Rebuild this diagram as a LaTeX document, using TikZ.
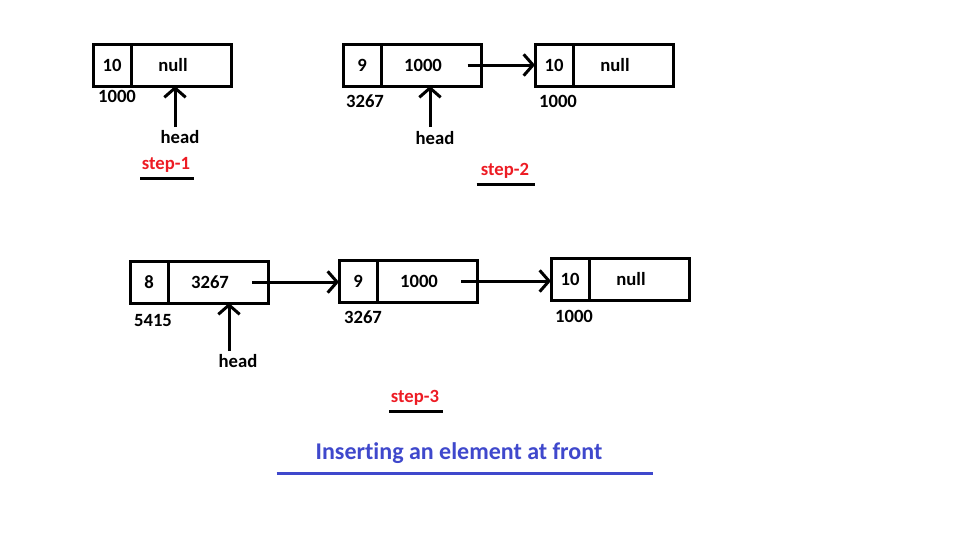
\documentclass[tikz,border=0pt]{standalone}
\usepackage{fontspec}
\setmainfont{Carlito}[Ligatures=NoCommon]
\usetikzlibrary{arrows.meta}
\definecolor{stepred}{RGB}{237,28,36}
\definecolor{titleblue}{RGB}{63,72,204}

\begin{document}
\begin{tikzpicture}[x=0.75pt,y=-0.75pt,
		cell/.style={draw, line width=2.25pt, minimum height=31.5pt, inner sep=0pt, outer sep=0pt, font=\bfseries\fontsize{14}{16}\selectfont},
		datacell/.style={cell, minimum width=28.5pt},
		ptrcell/.style={cell, minimum width=75pt, anchor=west},
		val/.style={font=\bfseries\fontsize{14}{16}\selectfont, inner sep=1pt},
		steplbl/.style={font=\bfseries\fontsize{14}{16}\selectfont, text=stepred, inner sep=1pt},
		link/.style={line width=2.25pt, -{Straight Barb[length=7pt, width=16pt, line width=2.25pt]}},
		rule/.style={line width=2.25pt}]
		\useasboundingbox (0,0) rectangle (969,553);

		% step 1
		\node[datacell] (d1) at (112,65) {10};
		\node[ptrcell] (p1) at (d1.east) {};
		\node[val] (v1) at ([xshift=-6pt]p1.center) {null};
		\node[val] (a1) at (117,96) {1000};
		\node[val] (h1) at (180,137) {head};
		\coordinate (t1) at (175,127);
		\draw[link] (t1) -- (t1 |- p1.south);
		\node[steplbl] (s1) at (166,165) {step-1};
		\draw[rule] ([yshift=-3pt]s1.south west) -- ([xshift=2pt,yshift=-3pt]s1.south east);

		% step 2
		\node[datacell] (d9b) at (362,65) {9};
		\node[ptrcell] (p9b) at (d9b.east) {};
		\node[val] (v9b) at ([xshift=-6pt]p9b.center) {1000};
		\node[datacell] (d10b) at (554,65) {10};
		\node[ptrcell] (p10b) at (d10b.east) {};
		\node[val] (v10b) at ([xshift=-6pt]p10b.center) {null};
		\node[val] (a2) at (365,101) {3267};
		\node[val] (a3) at (558,101) {1000};
		\draw[link] ([xshift=-10pt]p9b.east) -- (d10b.west);
		\node[val] (h2) at (435,138) {head};
		\coordinate (t2) at (430,127);
		\draw[link] (t2) -- (t2 |- p9b.south);
		\node[steplbl] (s2) at (505,171) {step-2};
		\draw[rule] ([xshift=-2pt,yshift=-3pt]s2.south west) -- ([xshift=3pt,yshift=-3pt]s2.south east);

		% step 3
		\node[datacell] (d8c) at (149,282) {8};
		\node[ptrcell] (p8c) at (d8c.east) {};
		\node[val] (v8c) at ([xshift=-6pt]p8c.center) {3267};
		\node[datacell] (d9c) at (358,281) {9};
		\node[ptrcell] (p9c) at (d9c.east) {};
		\node[val] (v9c) at ([xshift=-6pt]p9c.center) {1000};
		\node[datacell] (d10c) at (570,279) {10};
		\node[ptrcell] (p10c) at (d10c.east) {};
		\node[val] (v10c) at ([xshift=-6pt]p10c.center) {null};
		\node[val] (a4) at (153,320) {5415};
		\node[val] (a5) at (363,317) {3267};
		\node[val] (a6) at (574,316) {1000};
		\coordinate (t5) at ([xshift=-12pt]p8c.east);
		\draw[link] (t5) -- (t5 -| d9c.west);
		\coordinate (t4) at ([xshift=-12pt]p9c.east);
		\draw[link] (t4) -- (t4 -| d10c.west);
		\node[val] (h3) at (238,361) {head};
		\coordinate (t3) at (229,351);
		\draw[link] (t3) -- (t3 |- p8c.south);
		\node[steplbl] (s3) at (415,398) {step-3};
		\draw[rule] ([yshift=-3pt]s3.south west) -- ([xshift=2pt,yshift=-3pt]s3.south east);

		% caption
		\node[font=\bfseries\fontsize{18}{21}\selectfont, text=titleblue, inner sep=1pt] (ttl) at (459,453) {Inserting an element at front};
		\draw[rule, titleblue] ([xshift=-28pt,yshift=-6pt]ttl.south west) -- ([xshift=37pt,yshift=-6pt]ttl.south east);
	\end{tikzpicture}
\end{document}
